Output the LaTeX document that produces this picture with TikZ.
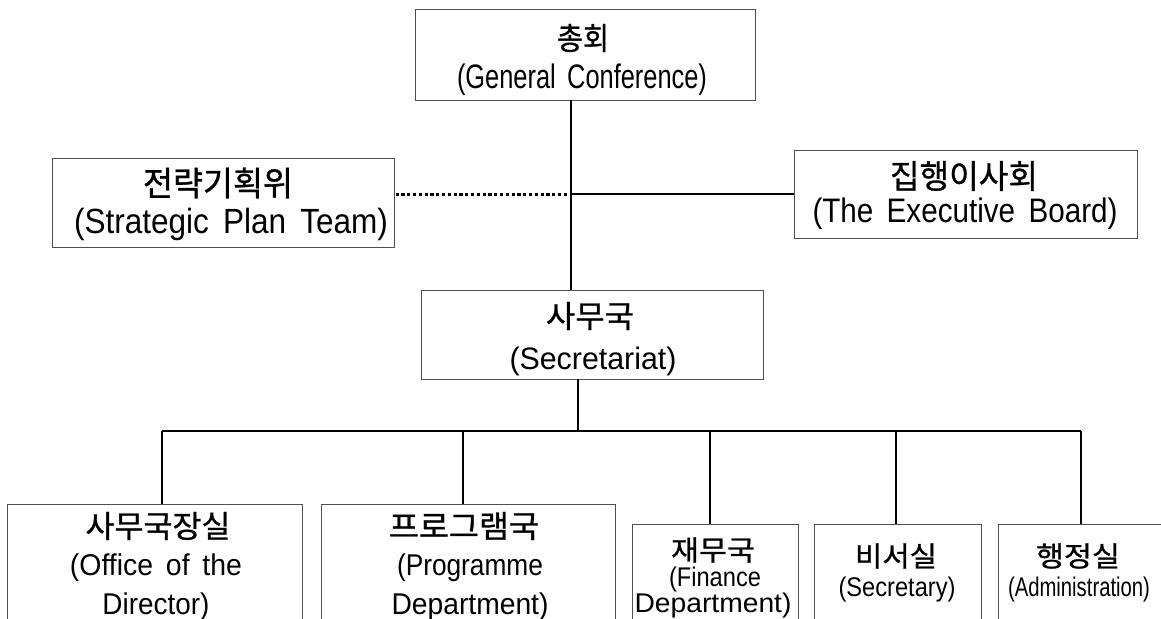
\documentclass[tikz,border=0pt]{standalone}
\usepackage{fontspec}
\setmainfont{Liberation Sans}
\newfontfamily\kr[FakeBold=0.9]{Noto Sans CJK KR}
\usepackage{graphicx}
\definecolor{boxgray}{HTML}{505050}
\newcommand\fitl[3]{\resizebox{#2pt}{\height}{\fontsize{#1pt}{#1pt}\selectfont #3}}
\newcommand\fitk[3]{\resizebox{#2pt}{\height}{\kr\fontsize{#1pt}{#1pt}\selectfont #3}}
\newcommand\wsp{\hspace{0.45em}}
\begin{document}
\begin{tikzpicture}[x=1pt,y=-1pt,
  box/.style={draw=boxgray, line width=1pt, inner sep=0pt, outer sep=0pt, fill=white},
  conn/.style={line width=1.6pt, black},
  dotconn/.style={line width=3pt, black, line cap=butt, dash pattern=on 3.2pt off 2.6pt},
  txt/.style={inner sep=0pt, outer sep=0pt, anchor=center}]
\useasboundingbox (0,0) rectangle (1161,618);
\fill[white] (0,0) rectangle (1161,618);
% boxes
\node[box, minimum width=340pt, minimum height=90pt] (gc) at (585,55) {};
\node[box, minimum width=342pt, minimum height=89pt] (spt) at (223,202.5) {};
\node[box, minimum width=343pt, minimum height=88pt] (eb) at (965.5,194) {};
\node[box, minimum width=342pt, minimum height=89pt] (sec) at (592,334.5) {};
\node[box, minimum width=295pt, minimum height=156pt] (off) at (154.5,582) {};
\node[box, minimum width=294pt, minimum height=156pt] (prg) at (468,582) {};
\node[box, minimum width=166pt, minimum height=136pt] (fin) at (715,592) {};
\node[box, minimum width=167pt, minimum height=136pt] (scr) at (897.5,592) {};
\node[box, minimum width=165pt, minimum height=136pt] (adm) at (1080.5,592) {};
% helper coordinates
\coordinate (trunk) at (571,0);
\coordinate (busc) at (578,431);
\coordinate (d1) at (162,431);
\coordinate (d2) at (463,431);
\coordinate (d3) at (710,431);
\coordinate (d4) at (896,431);
\coordinate (d5) at (1081,431);
% connectors
\draw[conn] (gc.south -| trunk) -- (sec.north -| trunk);
\draw[dotconn] ([xshift=1.5pt]spt.east |- eb.west) -- (eb.west -| trunk);
\draw[conn] (eb.west -| trunk) -- (eb.west);
\draw[conn] (sec.south -| busc) -- (busc);
\draw[conn] (d1) -- (d5);
\draw[conn] (d1) -- (d1 |- off.north);
\draw[conn] (d2) -- (d2 |- prg.north);
\draw[conn] (d3) -- (d3 |- fin.north);
\draw[conn] (d4) -- (d4 |- scr.north);
\draw[conn] (d5) -- (d5 |- adm.north);
% texts
\node[txt] (gck) at (583,38) {\fitk{31}{52}{총회}};
\node[txt] (gcl) at (582,80) {\fitl{34}{250}{(General\wsp Conference)}};
\node[txt] (sptk) at (218,183) {\fitk{34}{150}{전략기획위}};
\node[txt] (sptl) at (231,224) {\fitl{35}{314}{(Strategic\wsp Plan\wsp Team)}};
\node[txt] (ebk) at (964,176) {\fitk{33}{148}{집행이사회}};
\node[txt] (ebl) at (965,214) {\fitl{34}{305}{(The\wsp Executive\wsp Board)}};
\node[txt] (seck) at (590,316) {\fitk{31}{88}{사무국}};
\node[txt] (secl) at (593,361) {\fitl{31}{167}{(Secretariat)}};
\node[txt] (offk) at (158,526) {\fitk{31}{145}{사무국장실}};
\node[txt] (offl) at (156,568) {\fitl{30}{172}{(Office\wsp of\wsp the}};
\node[txt] (offm) at (156,607) {\fitl{30}{107}{Director)}};
\node[txt] (prgk) at (464,526) {\fitk{31}{150}{프로그램국}};
\node[txt] (prgl) at (470,568) {\fitl{30}{146}{(Programme}};
\node[txt] (prgm) at (470,607) {\fitl{30}{157}{Department)}};
\node[txt] (fink) at (713,550) {\fitk{28}{84}{재무국}};
\node[txt] (finl) at (715,580) {\fitl{27}{92}{(Finance}};
\node[txt] (finm) at (713,606) {\fitl{27}{157}{Department)}};
\node[txt] (scrk) at (896,556) {\fitk{28}{82}{비서실}};
\node[txt] (scrl) at (897,590) {\fitl{27}{117}{(Secretary)}};
\node[txt] (admk) at (1078,556) {\fitk{28}{84}{행정실}};
\node[txt] (adml) at (1079,590) {\fitl{27}{142}{(Administration)}};
\end{tikzpicture}
\end{document}
